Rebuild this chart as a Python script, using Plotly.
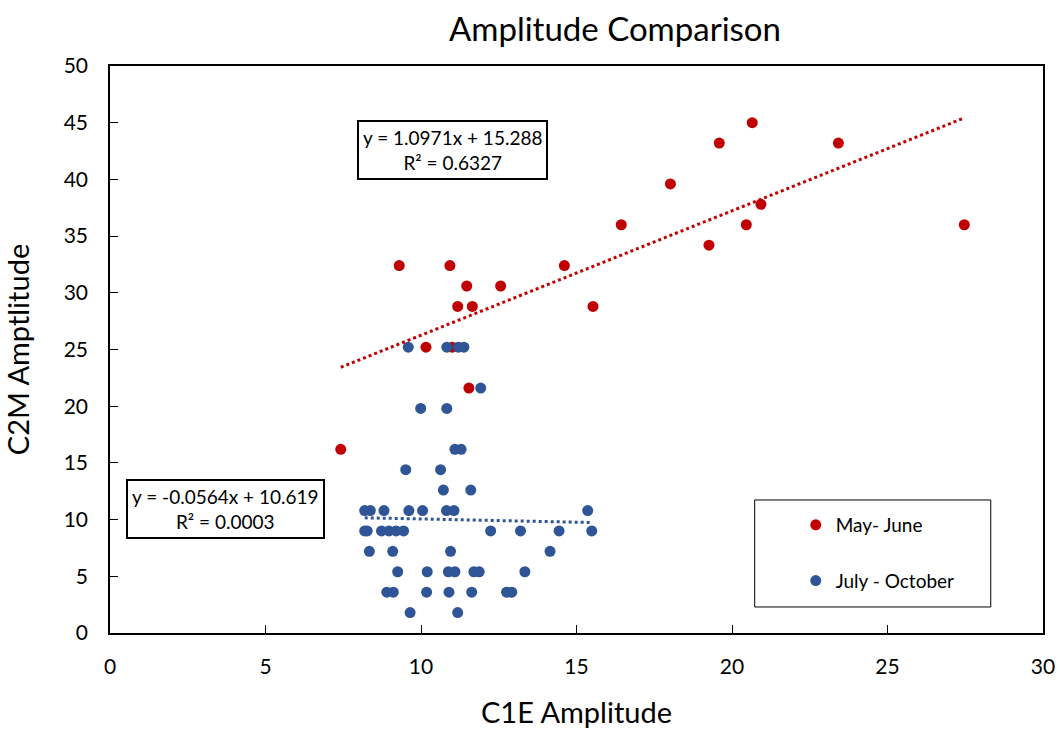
import numpy as np
import plotly.graph_objects as go

# ---- data ----
may_june_x = [7.42, 10.16, 11.00, 11.54, 9.30, 10.93, 11.47, 12.56, 11.18, 11.65,
              14.61, 15.53, 16.44, 20.46, 27.47, 20.93, 19.26, 18.02, 19.59, 23.42, 20.65]
may_june_y = [16.2, 25.2, 25.2, 21.6, 32.4, 32.4, 30.6, 30.6, 28.8, 28.8,
              32.4, 28.8, 36.0, 36.0, 36.0, 37.8, 34.2, 39.6, 43.2, 43.2, 45.0]

july_oct_x = [9.59, 10.83, 11.20, 11.38,
              11.92,
              9.99, 10.83,
              11.09, 11.29,
              9.51, 10.63,
              10.72, 11.60,
              8.19, 8.37, 8.81, 9.61, 10.05, 10.82, 11.06, 15.36,
              8.19, 8.27, 8.73, 8.97, 9.20, 9.44, 12.24, 13.20, 14.44, 15.49,
              8.34, 9.09, 10.95, 14.15,
              9.25, 10.20, 10.88, 11.09, 11.70, 11.87, 13.34,
              8.90, 9.11, 10.18, 10.90, 11.63, 12.75, 12.92,
              9.65, 11.18]
july_oct_y = [25.2, 25.2, 25.2, 25.2,
              21.6,
              19.8, 19.8,
              16.2, 16.2,
              14.4, 14.4,
              12.6, 12.6,
              10.8, 10.8, 10.8, 10.8, 10.8, 10.8, 10.8, 10.8,
              9.0, 9.0, 9.0, 9.0, 9.0, 9.0, 9.0, 9.0, 9.0, 9.0,
              7.2, 7.2, 7.2, 7.2,
              5.4, 5.4, 5.4, 5.4, 5.4, 5.4, 5.4,
              3.6, 3.6, 3.6, 3.6, 3.6, 3.6, 3.6,
              1.8, 1.8]

# trendline coefficients as printed on the chart (slope, intercept, R^2)
may_june_fit = [1.0971, 15.288, 0.6327]
july_oct_fit = [-0.0564, 10.619, 0.0003]

series_names = ["May- June", "July - October"]
title_text = "Amplitude Comparison"
x_title = "C1E Amplitude"
y_title = "C2M Amptlitude"

RED = "#C00000"
BLUE = "#2F5597"
FONT = "Lato, 'Open Sans', sans-serif"


def fit_line(xs, coef):
    xr = np.array([min(xs), max(xs)])
    return xr, coef[0] * xr + coef[1]


fig = go.Figure()

fig.add_trace(go.Scatter(x=may_june_x, y=may_june_y, mode="markers", name=series_names[0],
                         legendgroup="a",
                         marker=dict(color=RED, size=11)))
fig.add_trace(go.Scatter(x=july_oct_x, y=july_oct_y, mode="markers", name=series_names[1],
                         legendgroup="b",
                         marker=dict(color=BLUE, size=11)))

rx, ry = fit_line(may_june_x, may_june_fit)
fig.add_trace(go.Scatter(x=rx, y=ry, mode="lines", showlegend=False, hoverinfo="skip",
                         line=dict(color=RED, width=3, dash="dot")))
bx, by = fit_line(july_oct_x, july_oct_fit)
fig.add_trace(go.Scatter(x=bx, y=by, mode="lines", showlegend=False, hoverinfo="skip",
                         line=dict(color=BLUE, width=3, dash="dot")))


def eq_text(coef):
    return f"y = {coef[0]:.4f}x + {abs(coef[1]):.3f}<br>R² = {coef[2]:.4f}"


fig.add_annotation(x=11.0, y=42.6, xref="x", yref="y", text=eq_text(may_june_fit),
                   showarrow=False, font=dict(family=FONT, size=19, color="black"),
                   bordercolor="black", borderwidth=2, borderpad=4, bgcolor="white")
fig.add_annotation(x=3.7, y=10.9, xref="x", yref="y", text=eq_text(july_oct_fit),
                   showarrow=False, font=dict(family=FONT, size=19, color="black"),
                   bordercolor="black", borderwidth=2, borderpad=4, bgcolor="white")

# legend frame
fig.add_shape(type="rect", xref="paper", yref="paper",
              x0=0.691, x1=0.944, y0=0.0459, y1=0.2346,
              line=dict(color="black", width=1), fillcolor="white", layer="below")

fig.update_layout(
    width=1060, height=729,
    margin=dict(l=110, r=17, t=66, b=96),
    paper_bgcolor="white", plot_bgcolor="white",
    font=dict(family=FONT, color="black"),
    title=dict(text=title_text, x=615 / 1060, xanchor="center", xref="container",
               y=1 - 29 / 729, yanchor="middle",
               font=dict(size=33, family=FONT, color="black")),
    showlegend=True,
    legend=dict(x=0.735, y=0.224, xanchor="left", yanchor="top",
                bgcolor="rgba(0,0,0,0)", borderwidth=0,
                traceorder="grouped", tracegroupgap=28,
                font=dict(size=19, family=FONT, color="black")),
    xaxis=dict(range=[0, 30], dtick=5, tick0=0, automargin=False,
               showline=True, linecolor="black", linewidth=1.5, mirror=True,
               ticks="inside", ticklen=8, tickcolor="black", showgrid=False, zeroline=False,
               tickfont=dict(size=21, family=FONT), ticklabelstandoff=14,
               title=dict(text=x_title, font=dict(size=29, family=FONT), standoff=28)),
    yaxis=dict(range=[0, 50], dtick=5, tick0=0, automargin=False,
               showline=True, linecolor="black", linewidth=1.5, mirror=True,
               ticks="inside", ticklen=8, tickcolor="black", showgrid=False, zeroline=False,
               tickfont=dict(size=21, family=FONT), ticklabelstandoff=16,
               title=dict(text=y_title, font=dict(size=29, family=FONT), standoff=26)),
)

fig.write_html("out.html")
